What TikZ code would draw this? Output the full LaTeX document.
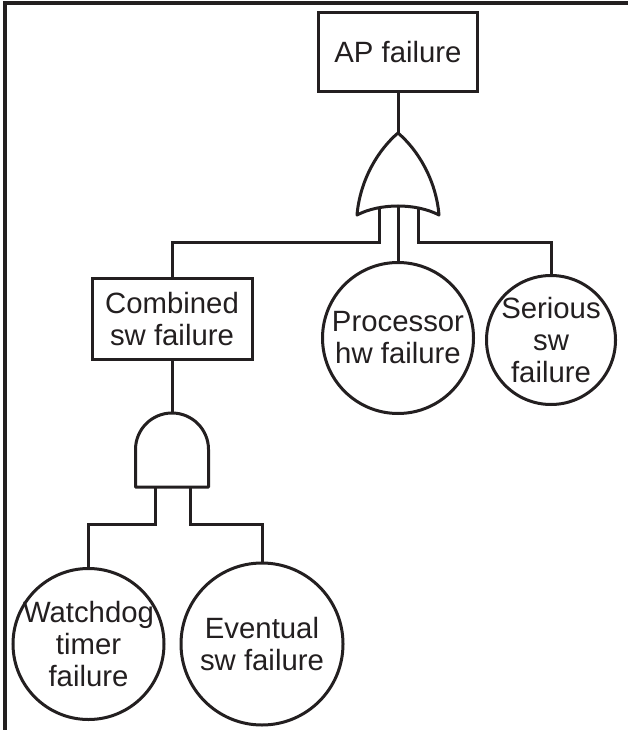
\documentclass[tikz,border=0pt]{standalone}
\usepackage{fontspec}
\setmainfont{Liberation Sans}
\definecolor{ink}{HTML}{231F20}
\begin{document}
\begin{tikzpicture}[x=0.75pt,y=-0.75pt,
  line width=2.25pt,
  txt/.style={font=\fontsize{22}{24}\selectfont, text=ink, align=center},
  box/.style={txt, draw=ink, fill=white, inner sep=0pt},
  evt/.style={draw=ink, fill=white, circle, inner sep=0pt},
  evtlabel/.style={label={[txt]center:#1}},
  gatestyle/.style={draw=ink, fill=white, line join=round},
  wire/.style={draw=ink},
  frame/.style={draw=ink, line width=2.5pt}]
\useasboundingbox (0,0) rectangle (627,730);
\draw[frame] (5,732) -- (5,3) -- (629,3);

% events
\node[box, minimum width=119.25pt, minimum height=59.25pt] (ap) at (398,52.5) {AP failure};
\node[box, minimum width=120pt, minimum height=60pt] (comb) at (172,319) {Combined\\sw failure};
\node[evt, minimum size=113.25pt, evtlabel={Processor\\hw failure}] (proc) at (398,338) {};
\node[evt, minimum size=96.75pt, evtlabel={Serious\\sw\\failure}] (ser) at (551,340) {};
\node[evt, minimum size=113.25pt, evtlabel={Watchdog\\timer\\failure}] (wd) at (88.5,644) {};
\node[evt, minimum size=121.5pt, evtlabel={Eventual\\sw failure}] (ev) at (262,644) {};

% gate anchors
\coordinate (ortop) at (398,133);
\coordinate (orL) at (379,200);
\coordinate (orM) at (398,200);
\coordinate (orR) at (418,200);
\coordinate (bus1) at (0,243);
\coordinate (andtop) at (172,413);
\coordinate (andL) at (155,480);
\coordinate (andR) at (190,480);
\coordinate (bus2) at (0,524);

% connectors
\draw[wire] (ap.south) -- (ortop);
\draw[wire] (orL) -- (orL |- bus1) -| (comb.north);
\draw[wire] (orM) -- (proc.north);
\draw[wire] (orR) -- (orR |- bus1) -| (ser.north);
\draw[wire] (comb.south) -- (andtop);
\draw[wire] (andL) -- (andL |- bus2) -| (wd.north);
\draw[wire] (andR) -- (andR |- bus2) -| (ev.north);

% OR gate
\draw[gatestyle] (ortop) .. controls (378,150) and (360,180) .. (357,215)
  .. controls (380,203) and (416,203) .. (439,215)
  .. controls (436,180) and (418,150) .. (ortop) -- cycle;
% AND gate
\draw[gatestyle] (135.5,487) -- (135.5,449.5) arc[start angle=180, end angle=0, x radius=36.5, y radius=-36.5] -- (208.5,487) -- cycle;
\end{tikzpicture}
\end{document}
